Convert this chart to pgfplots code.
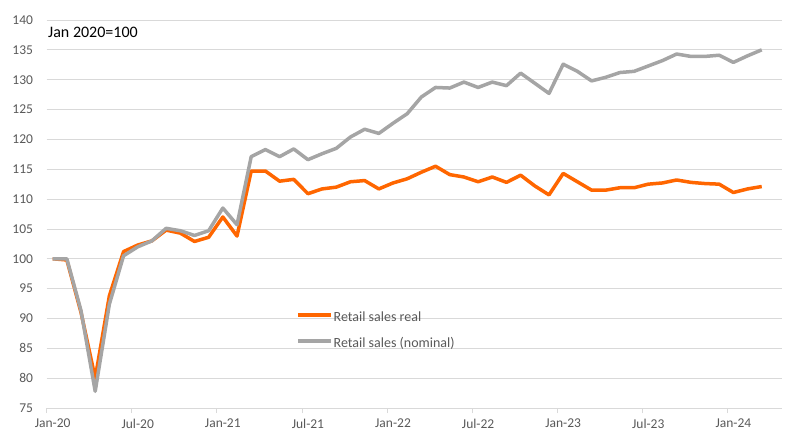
\documentclass[border=0pt]{standalone}
\usepackage{pgfplots}
\pgfplotsset{compat=1.18}
\usepackage{fontspec}
\setmainfont{Carlito}
\definecolor{cOrange}{HTML}{FF6600}
\definecolor{cGray}{HTML}{A5A5A5}
\definecolor{cGrid}{HTML}{D9D9D9}
\definecolor{cText}{HTML}{595959}
\begin{document}
\begin{tikzpicture}
\useasboundingbox (0,0) rectangle (791pt,441pt);
\begin{axis}[
  at={(46.7pt,33pt)}, anchor=south west,
  scale only axis, width=735.3pt, height=388pt,
  xmin=-0.42, xmax=51.43, ymin=75, ymax=140,
  ytick={75,80,...,140},
  xtick={0,6,...,48},
  xticklabels={Jan-20,Jul-20,Jan-21,Jul-21,Jan-22,Jul-22,Jan-23,Jul-23,Jan-24},
  minor xtick={-0.42,5.58,...,47.6},
  major tick length=0pt, minor tick length=5pt,
  tick align=outside,
  xtick pos=bottom, ytick pos=left,
  minor x tick style={draw=cGrid, line width=0.8pt},
  ytick style={draw=none},
  axis line style={draw=none},
  ymajorgrids, grid style={draw=cGrid, line width=0.8pt},
  /pgf/number format/assume math mode=true,
  tick label style={font=\fontsize{13.5}{16}\selectfont, text=cText},
  yticklabel style={anchor=east, inner sep=0pt, xshift=-13.5pt},
  xticklabel style={anchor=north, inner sep=0pt, yshift=-11pt},
  legend cell align=left,
  legend image code/.code={\draw[#1] (0pt,3.8pt) -- (33pt,3.8pt);},
  legend style={at={(axis description cs:0.339,0.2516)}, anchor=north west,
    draw=none, fill=none, inner sep=0pt, row sep=10.2pt,
    font=\fontsize{14}{17}\selectfont, text=cText,
    nodes={inner sep=1pt, text height=10pt, text depth=4pt}},
]
\addplot[cOrange, line width=3.5pt, line join=round] coordinates {
(0,100) (1,99.8) (2,91.0) (3,80.0) (4,93.8) (5,101.2) (6,102.3) (7,103.0) (8,104.8) (9,104.3)
(10,102.9) (11,103.6) (12,107.0) (13,103.8) (14,114.7) (15,114.7) (16,113.0) (17,113.3) (18,110.9) (19,111.7)
(20,112.0) (21,112.9) (22,113.1) (23,111.7) (24,112.7) (25,113.4) (26,114.5) (27,115.5) (28,114.1) (29,113.7)
(30,112.9) (31,113.7) (32,112.8) (33,114.0) (34,112.2) (35,110.7) (36,114.3) (37,112.9) (38,111.5) (39,111.5)
(40,111.9) (41,111.9) (42,112.5) (43,112.7) (44,113.2) (45,112.8) (46,112.6) (47,112.5) (48,111.1) (49,111.7)
(50,112.1)};
\addlegendentry{Retail sales real}
\addplot[cGray, line width=3.5pt, line join=round] coordinates {
(0,100) (1,100.0) (2,91.3) (3,77.8) (4,92.4) (5,100.5) (6,102.0) (7,103.0) (8,105.1) (9,104.7)
(10,103.9) (11,104.7) (12,108.5) (13,105.7) (14,117.1) (15,118.3) (16,117.1) (17,118.4) (18,116.6) (19,117.6)
(20,118.5) (21,120.4) (22,121.7) (23,121.0) (24,122.7) (25,124.3) (26,127.1) (27,128.7) (28,128.6) (29,129.6)
(30,128.7) (31,129.6) (32,129.0) (33,131.1) (34,129.4) (35,127.7) (36,132.6) (37,131.4) (38,129.8) (39,130.4)
(40,131.2) (41,131.4) (42,132.3) (43,133.2) (44,134.3) (45,133.9) (46,133.9) (47,134.1) (48,132.9) (49,134.0)
(50,135.0)};
\addlegendentry{Retail sales (nominal)}
\node[anchor=base west, inner sep=0pt, font=\fontsize{16}{19}\selectfont] at (rel axis cs:0.0018,0.956) {Jan 2020=100};
\end{axis}
\end{tikzpicture}
\end{document}
